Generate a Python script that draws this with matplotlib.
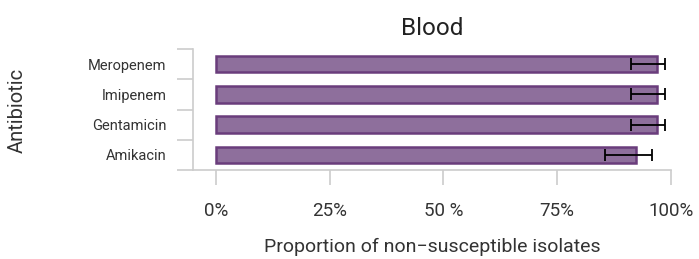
import numpy as np
import matplotlib.pyplot as plt
from matplotlib.ticker import FixedLocator

antibiotics = ["Amikacin", "Gentamicin", "Imipenem", "Meropenem"]
proportion = [92.3, 97.0, 97.0, 97.0]
ci_low = [85.5, 91.2, 91.2, 91.2]
ci_high = [95.8, 98.7, 98.7, 98.7]
xtick_values = [0, 25, 50, 75, 100]
xtick_labels = ["0%", "25%", "50 %", "75%", "100%"]

plt.rcParams['font.family'] = ['Roboto', 'DejaVu Sans']

fig = plt.figure(figsize=(6.99, 2.59), dpi=100)
ax = fig.add_axes([193 / 699, 1 - 170 / 259, (671 - 193) / 699, (170 - 49) / 259])

y = np.arange(len(antibiotics))
vals = np.array(proportion)
err = [vals - np.array(ci_low), np.array(ci_high) - vals]

ax.barh(y, vals, height=0.55, color="#8e6f9c", edgecolor="#6a3d7c", linewidth=1.8, zorder=2)
ax.errorbar(vals, y, xerr=err, fmt="none", ecolor="black", elinewidth=1.3,
            capsize=4, capthick=1.3, zorder=3)

ax.set_xlim(-5, 100)
ax.set_ylim(-0.5, 3.5)
ax.set_yticks(y)
ax.set_yticklabels(antibiotics, fontsize=10.5, color="#333333")
ax.yaxis.set_minor_locator(FixedLocator(np.arange(-0.5, 4, 1)))
ax.tick_params(axis="y", which="major", length=0, pad=19)
ax.tick_params(axis="y", which="minor", length=11.5, width=1.2, color="#cccccc")
ax.set_xticks(xtick_values)
ax.set_xticklabels(xtick_labels, fontsize=13.5, color="#333333")
ax.tick_params(axis="x", length=11, width=1.2, color="#cccccc", pad=12)

for s in ["top", "right"]:
    ax.spines[s].set_visible(False)
for s in ["left", "bottom"]:
    ax.spines[s].set_color("#cccccc")
    ax.spines[s].set_linewidth(1.2)

ax.set_title("Blood", fontsize=17.5, color="#222222", pad=10)
ax.set_xlabel("Proportion of non\u2212susceptible isolates", fontsize=14, color="#333333", labelpad=13)
fig.text(17 / 699, 1 - 110 / 259, "Antibiotic", rotation=90, fontsize=14.5,
         color="#333333", ha="center", va="center")

fig.savefig("out.png", dpi=100)
